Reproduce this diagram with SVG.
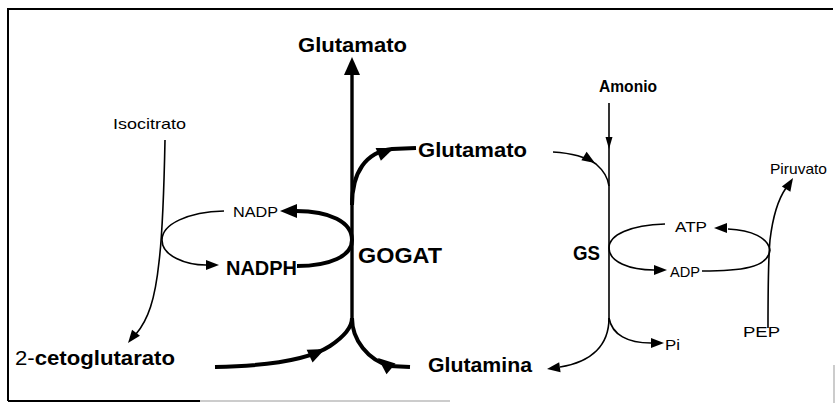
<svg xmlns="http://www.w3.org/2000/svg" xmlns:xlink="http://www.w3.org/1999/xlink" width="835" height="403" viewBox="0 0 835 403">
  <style>
    .frame { fill: none; stroke: #000; stroke-width: 2; }
    .frame-light { fill: none; stroke: #bbb; stroke-width: 1.5; }
    .thick { fill: none; stroke: #000; stroke-width: 4; stroke-linecap: butt; }
    .main { fill: none; stroke: #000; stroke-width: 3.4; }
    .thin { fill: none; stroke: #000; stroke-width: 1.6; }
    .head { fill: #000; }
    text { font-family: "Liberation Sans", Arial, sans-serif; fill: #000; }
    .bold { font-weight: bold; font-size: 20px; }
    .reg { font-size: 14.5px; }
  </style>
  <defs>
    <!-- arrowheads, tip at origin, pointing along +x -->
    <path id="bigHead" d="M0,0 L-18,-8 L-18,8 Z"/>
    <path id="midHead" d="M0,0 L-17,-7 L-17,7 Z"/>
    <path id="smallHead" d="M0,0 L-13,-5 L-13,5 Z"/>
    <path id="needleHead" d="M0,0 L-12,-3.5 L-12,3.5 Z"/>
  </defs>

  <!-- page frame -->
  <g id="frame">
    <path class="frame" d="M8,401 V9 H833"/>
    <path class="frame" d="M8,401 H200"/>
    <path class="frame-light" d="M200,401 H450"/>
    <path class="frame-light" d="M834,365 V403"/>
  </g>

  <g id="connectors">
    <!-- GOGAT axis up to glutamate -->
    <path class="main" d="M352,324 V72"/>
    <use href="#bigHead" class="head" transform="translate(352,57) rotate(-90)"/>

    <!-- GOGAT branch to second glutamate -->
    <path class="thick" d="M352,205 C352,172 366,152 392,149 L416,148"/>
    <use href="#midHead" class="head" transform="translate(394,148) rotate(-22)"/>

    <!-- NADPH / NADP cycle -->
    <path class="thick" d="M352,240 C352,222 330,211 296,211"/>
    <use href="#midHead" class="head" transform="translate(280,211) rotate(180)"/>
    <path class="thick" d="M297,266 C330,266 352,256 352,240"/>
    <path class="thin" d="M224,211 C188,212 162,224 162,240 C162,256 186,265 206,265"/>
    <use href="#smallHead" class="head" transform="translate(219,265)"/>

    <!-- isocitrate to 2-oxoglutarate -->
    <path class="thin" d="M165,140 C164,190 163,230 159,262 C155,300 148,320 136,334"/>
    <use href="#smallHead" class="head" transform="translate(128,343) rotate(128)"/>

    <!-- 2-oxoglutarate into GOGAT -->
    <path class="thick" d="M215,367 C268,366 310,359 330,346 C345,336 352,326 352,318"/>
    <use href="#midHead" class="head" transform="translate(325,349) rotate(-25)"/>

    <!-- glutamine into GOGAT -->
    <path class="thick" d="M352,318 C352,340 368,360 390,366 L410,367"/>
    <use href="#midHead" class="head" transform="translate(378,358) rotate(-140)"/>

    <!-- GS axis with ammonium input -->
    <path class="thin" d="M609,103 V322"/>
    <use href="#needleHead" class="head" transform="translate(609,149) rotate(90)"/>

    <!-- glutamate into GS -->
    <path class="thin" d="M553,152 C570,153 586,157 596,164 C604,171 608,178 609,186"/>
    <use href="#smallHead" class="head" transform="translate(595,163) rotate(32)"/>

    <!-- ATP / ADP cycle -->
    <path class="thin" d="M665,224 C630,225 609,235 609,248 C609,262 630,270 654,270"/>
    <use href="#smallHead" class="head" transform="translate(667,270)"/>
    <path class="thin" d="M770,250 C768,238 752,230 728,229"/>
    <use href="#smallHead" class="head" transform="translate(714,228) rotate(180)"/>
    <path class="thin" d="M702,271 C740,271 768,268 770,250"/>

    <!-- PEP to pyruvate -->
    <path class="thin" d="M768,328 C768,300 768,262 770,240 C773,215 779,198 786,188"/>
    <use href="#smallHead" class="head" transform="translate(793,178) rotate(-58)"/>

    <!-- GS outputs: glutamine and Pi -->
    <path class="thin" d="M609,318 C609,345 592,362 560,367"/>
    <use href="#smallHead" class="head" transform="translate(547,369) rotate(172)"/>
    <path class="thin" d="M609,318 C612,335 628,343 651,343"/>
    <use href="#smallHead" class="head" transform="translate(664,343)"/>
  </g>

  <g id="glutamato-top"><text class="bold" x="298" y="52" textLength="109" lengthAdjust="spacingAndGlyphs">Glutamato</text></g>
  <g id="isocitrato"><text class="reg" x="113" y="129" textLength="73" lengthAdjust="spacingAndGlyphs">Isocitrato</text></g>
  <g id="glutamato-mid"><text class="bold" x="418" y="157" textLength="109" lengthAdjust="spacingAndGlyphs">Glutamato</text></g>
  <g id="amonio"><text class="bold" style="font-size:16px" x="599" y="92" textLength="58" lengthAdjust="spacingAndGlyphs">Amonio</text></g>
  <g id="piruvato"><text class="reg" x="770" y="174" textLength="57" lengthAdjust="spacingAndGlyphs">Piruvato</text></g>
  <g id="nadp"><text class="reg" x="233" y="217" textLength="45" lengthAdjust="spacingAndGlyphs">NADP</text></g>
  <g id="nadph"><text class="bold" x="226" y="275" textLength="71" lengthAdjust="spacingAndGlyphs">NADPH</text></g>
  <g id="gogat"><text class="bold" style="font-size:22px" x="358" y="263" textLength="84" lengthAdjust="spacingAndGlyphs">GOGAT</text></g>
  <g id="gs"><text class="bold" x="573" y="260" textLength="27" lengthAdjust="spacingAndGlyphs">GS</text></g>
  <g id="atp"><text class="reg" x="675" y="232" textLength="32" lengthAdjust="spacingAndGlyphs">ATP</text></g>
  <g id="adp"><text class="reg" x="670" y="277" textLength="30" lengthAdjust="spacingAndGlyphs">ADP</text></g>
  <g id="pep"><text class="reg" x="743" y="337" textLength="37" lengthAdjust="spacingAndGlyphs">PEP</text></g>
  <g id="cetoglutarato"><text class="bold" x="15" y="365" textLength="160" lengthAdjust="spacingAndGlyphs"><tspan font-weight="normal">2-</tspan>cetoglutarato</text></g>
  <g id="glutamina"><text class="bold" x="428" y="372" textLength="104" lengthAdjust="spacingAndGlyphs">Glutamina</text></g>
  <g id="pi"><text class="reg" x="665" y="350" textLength="15" lengthAdjust="spacingAndGlyphs">Pi</text></g>
</svg>
